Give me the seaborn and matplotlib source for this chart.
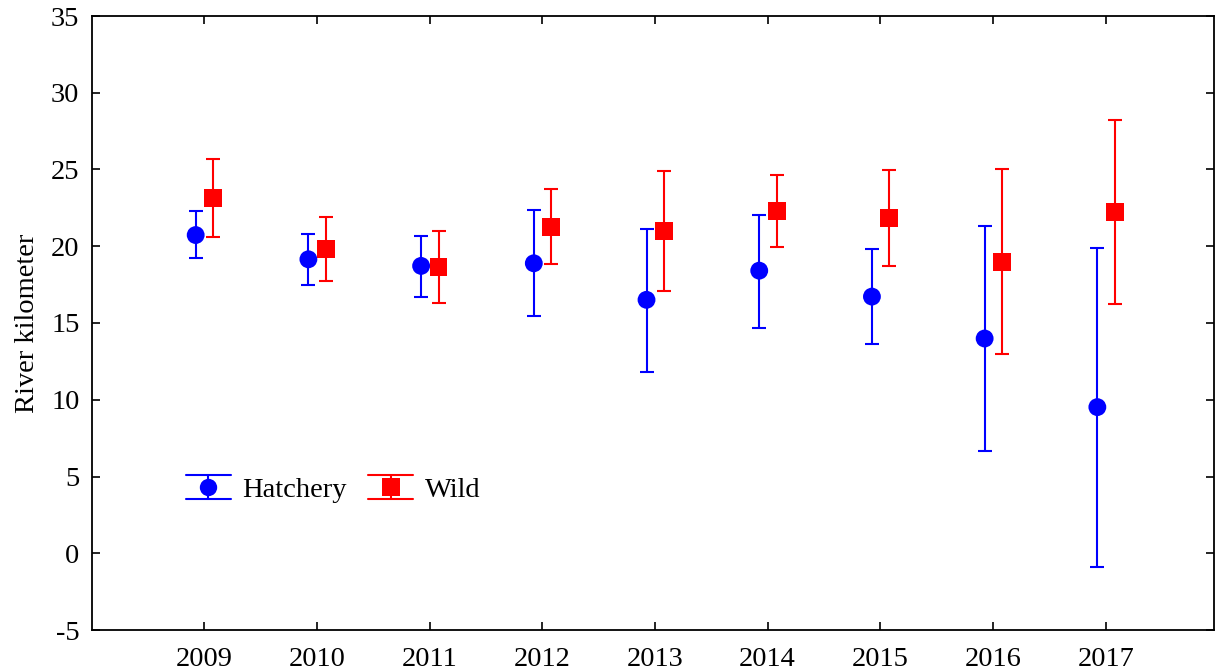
import matplotlib
matplotlib.use("Agg")
import matplotlib.pyplot as plt
import pandas as pd
import seaborn as sns
from matplotlib.legend_handler import HandlerBase
from matplotlib.lines import Line2D

# Mean river kilometer with lower / upper interval limits per release year
years = ["2009", "2010", "2011", "2012", "2013", "2014", "2015", "2016", "2017"]
hatchery_mean = [20.73, 19.15, 18.72, 18.89, 16.51, 18.41, 16.72, 13.99, 9.52]
hatchery_low = [19.22, 17.48, 16.70, 15.46, 11.84, 14.70, 13.60, 6.64, -0.89]
hatchery_high = [22.28, 20.82, 20.67, 22.36, 21.13, 22.04, 19.82, 21.32, 19.89]
wild_mean = [23.12, 19.82, 18.67, 21.27, 21.00, 22.32, 21.82, 19.00, 22.21]
wild_low = [20.62, 17.74, 16.33, 18.85, 17.09, 19.97, 18.70, 12.99, 16.25]
wild_high = [25.66, 21.89, 21.00, 23.73, 24.92, 24.64, 24.96, 25.00, 28.22]

groups = ["Hatchery", "Wild"]
colors = {"Hatchery": "#0000ff", "Wild": "#ff0000"}
markers = {"Hatchery": "o", "Wild": "s"}
offsets = {"Hatchery": -0.075, "Wild": 0.08}

rows = []
for g, m, lo, hi in [("Hatchery", hatchery_mean, hatchery_low, hatchery_high),
                     ("Wild", wild_mean, wild_low, wild_high)]:
    for i, y in enumerate(years):
        rows.append({"group": g, "year": y, "pos": i + offsets[g],
                     "mean": m[i], "low": lo[i], "high": hi[i]})
df = pd.DataFrame(rows)

sns.set_theme(style="ticks")
plt.rcParams["font.family"] = ["Liberation Serif", "DejaVu Serif"]
plt.rcParams["axes.unicode_minus"] = False
plt.rcParams["text.color"] = "black"
plt.rcParams["axes.labelcolor"] = "black"

FS = 20.5
fig = plt.figure(figsize=(12.15, 6.72), dpi=100)
ax = fig.add_axes([92 / 1215, 1 - 630 / 672, (1214 - 92) / 1215, (630 - 16) / 672])

# interval bars
for g in groups:
    sub = df[df["group"] == g]
    ax.errorbar(sub["pos"], sub["mean"],
                yerr=[sub["mean"] - sub["low"], sub["high"] - sub["mean"]],
                fmt="none", ecolor=colors[g], elinewidth=1.5, capsize=5,
                capthick=1.5, zorder=2)

# mean markers
sns.scatterplot(data=df, x="pos", y="mean", hue="group", style="group",
                palette=colors, markers=markers, s=165, linewidth=0,
                legend=False, ax=ax, zorder=3)

ax.set_xlim(-0.995, 8.96)
ax.set_ylim(-5, 35)
ax.set_xticks(range(len(years)))
ax.set_xticklabels(years)
ax.set_yticks(range(-5, 36, 5))
ax.set_xlabel("")
ax.set_ylabel("River kilometer", fontsize=FS, labelpad=8, color="black")

ax.tick_params(axis="both", which="major", direction="in", length=6, width=1.2,
               top=True, right=True, labelsize=FS, colors="black")
ax.tick_params(axis="y", pad=9)
ax.tick_params(axis="x", pad=12)
for side in ["left", "right", "top", "bottom"]:
    ax.spines[side].set_visible(True)
    ax.spines[side].set_linewidth(1.3)
    ax.spines[side].set_color("black")


class IntervalKeyHandler(HandlerBase):
    """Legend key: a marker on a short vertical bar between two wide caps."""

    def create_artists(self, legend, orig_handle, xdescent, ydescent,
                       width, height, fontsize, trans):
        color = orig_handle.get_color()
        mk = orig_handle.get_marker()
        x0, x1 = -xdescent, -xdescent + width
        y0, y1 = -ydescent, -ydescent + height
        xm, ym = (x0 + x1) / 2, (y0 + y1) / 2
        arts = [
            Line2D([x0, x1], [y1, y1], color=color, lw=1.5),
            Line2D([x0, x1], [y0, y0], color=color, lw=1.5),
            Line2D([xm, xm], [y0, y1], color=color, lw=1.5),
            Line2D([xm], [ym], color=color, marker=mk, markersize=12.5,
                   markeredgewidth=0, linestyle="none"),
        ]
        for a in arts:
            a.set_transform(trans)
        return arts


proxies = [Line2D([], [], color=colors[g], marker=markers[g]) for g in groups]
leg = ax.legend(proxies, groups, handler_map={Line2D: IntervalKeyHandler()},
                loc="center left", bbox_to_anchor=(0.0835, 0.23), ncol=2,
                frameon=False, fontsize=FS, handlelength=1.58, handleheight=0.92,
                handletextpad=0.42, columnspacing=0.75, borderpad=0,
                borderaxespad=0)
for t in leg.get_texts():
    t.set_color("black")

fig.savefig("out.png", dpi=100)
